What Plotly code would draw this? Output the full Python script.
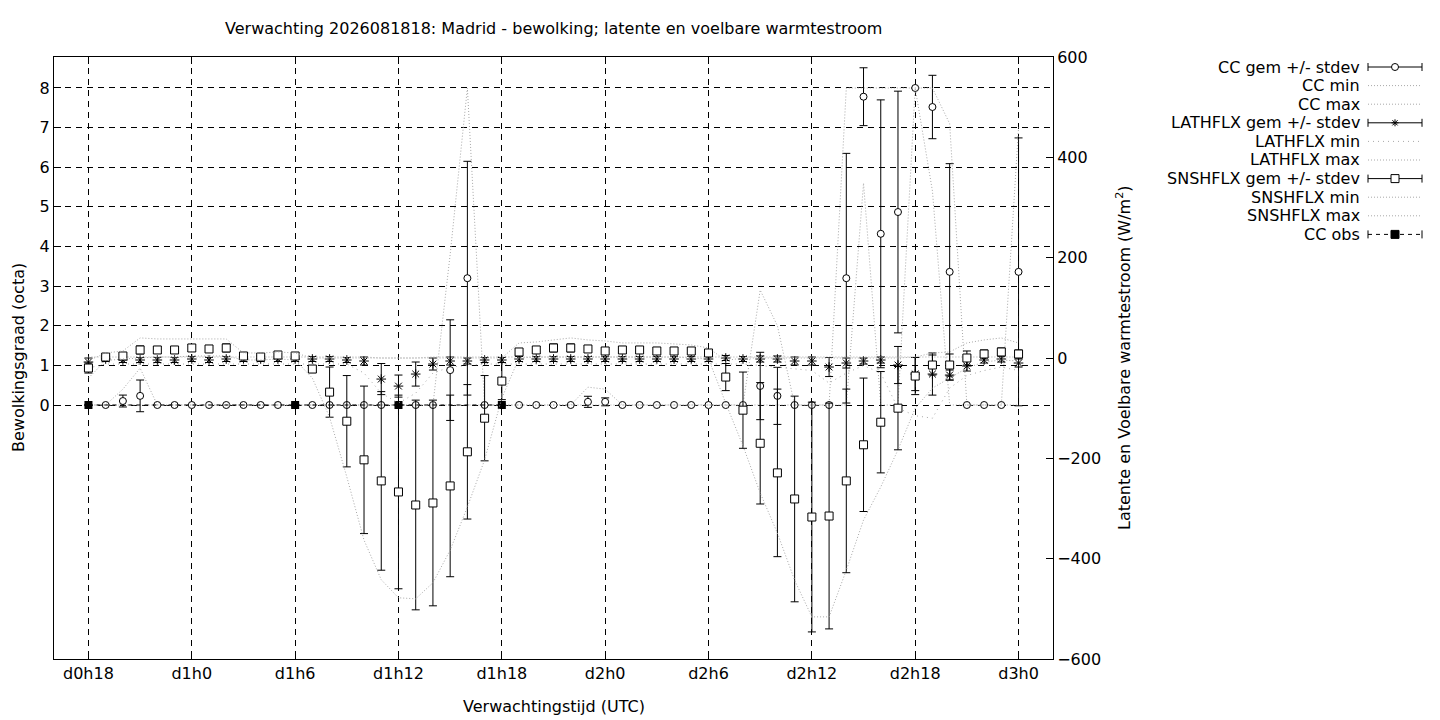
import plotly.graph_objects as go

# ---------------- data ----------------
hours = list(range(18, 73))
tick_hours = [18, 24, 30, 36, 42, 48, 54, 60, 66, 72]
tick_labels = ["d0h18", "d1h0", "d1h6", "d1h12", "d1h18", "d2h0", "d2h6", "d2h12", "d2h18", "d3h0"]
left_ticks = [0, 1, 2, 3, 4, 5, 6, 7, 8]
right_ticks = [-600, -400, -200, 0, 200, 400, 600]

# cloud cover (octa), h18 .. h72
cc_mean = [0, 0, 0.1, 0.23, 0, 0, 0, 0, 0, 0, 0, 0, 0, 0, 0, 0, 0, 0, 0, 0, 0, 0.88, 3.2, 0, 0,
           0, 0, 0, 0, 0.08, 0.08, 0, 0, 0, 0, 0, 0, 0, 0, 0.48, 0.23, 0, 0, 0, 3.2, 7.78, 4.32, 4.87,
           8.0, 7.52, 3.36, 0, 0, 0, 3.36]
cc_sd = [0, 0, 0.15, 0.4, 0, 0, 0, 0, 0, 0, 0, 0, 0, 0, 0, 0, 0, 0, 0, 0, 0, 1.27, 2.95, 0, 0,
         0, 0, 0, 0, 0.14, 0.1, 0, 0, 0, 0, 0, 0, 0, 0, 0.85, 0.72, 0, 0, 0, 3.15, 0.73, 3.38, 3.05,
         0, 0.8, 2.73, 0, 0, 0, 3.38]
cc_min = [0, 0, 0, 0, 0, 0, 0, 0, 0, 0, 0, 0, 0, 0, 0, 0, 0, 0, 0, 0, 0, 0, 0, 0, 0,
          0, 0, 0, 0, 0, 0, 0, 0, 0, 0, 0, 0, 0, 0, 0, 0, 0, 0, 0, 0, 5.6, 0, 0,
          8.0, 5.4, 0, 0, 0, 0, 0]
cc_max = [0, 0, 0.4, 0.93, 0, 0, 0, 0, 0, 0, 0, 0, 0, 0, 0, 0, 0, 0, 0, 0, 0, 3.8, 8.0, 0, 0,
          0, 0, 0, 0, 0.45, 0.4, 0, 0, 0, 0, 0, 0, 0, 0, 2.9, 2.0, 0, 0, 0, 8.0, 8.0, 8.0, 8.0,
          8.0, 8.0, 7.1, 0, 0, 0, 7.0]
obs_hours = [18, 30, 36, 42]
cc_obs = [0, 0, 0, 0]

# latent heat flux (W/m2)
lat_mean = [-8, -2, -4, -4, -4, -4, -2, -4, -2, -2, -2, -2, -2, -2, -2, -4, -6, -42, -56, -32, -12, -6, -6, -4, -4,
            -2, -2, -2, -2, -2, -2, -2, -2, -2, -2, -2, -2, 0, -2, -2, -2, -6, -6, -18, -10, -6, -4, -14,
            -32, -32, -34, -16, -4, -2, -10]
lat_sd = [8, 5, 5, 5, 5, 5, 5, 5, 5, 5, 5, 5, 5, 5, 5, 5, 8, 31, 22, 24, 12, 8, 6, 5, 5,
          5, 5, 5, 5, 5, 5, 5, 5, 5, 5, 5, 5, 5, 5, 6, 6, 8, 8, 19, 10, 6, 6, 37,
          33, 42, 10, 10, 6, 6, 8]
lat_min = [-20, -12, -12, -12, -12, -12, -12, -12, -12, -12, -12, -12, -12, -12, -12, -12, -30, -70, -90, -70, -30, -18, -15, -12, -12,
           -12, -12, -12, -12, -12, -12, -12, -12, -12, -12, -12, -12, -12, -12, -15, -18, -22, -25, -50, -30, -15, -30, -100,
           -115, -120, -60, -35, -25, -18, -25]
lat_max = [2, 2, 2, 2, 2, 2, 2, 2, 2, 2, 2, 2, 2, 2, 2, 2, 2, 0, 0, 0, 2, 2, 2, 2, 2,
           2, 2, 2, 2, 2, 2, 2, 2, 2, 2, 2, 2, 2, 2, 2, 2, 2, 2, 2, 2, 2, 2, 2,
           2, 2, 2, 2, 2, 2, 2]

# sensible heat flux (W/m2)
sns_mean = [-20, 2, 4, 16, 16, 16, 20, 18, 20, 4, 2, 6, 4, -22, -68, -126, -203, -245, -267, -293, -289, -255, -187, -120, -46,
            12, 16, 20, 20, 18, 14, 16, 16, 14, 14, 14, 10, -38, -104, -170, -229, -281, -317, -315, -245, -173, -128, -100,
            -36, -14, -14, 0, 8, 12, 8]
sns_sd = [10, 3, 4, 8, 7, 7, 7, 7, 8, 3, 3, 4, 3, 7, 50, 91, 147, 178, 193, 209, 205, 181, 134, 85, 37,
          6, 7, 8, 8, 7, 7, 7, 7, 7, 7, 6, 5, 27, 76, 121, 167, 205, 229, 225, 183, 133, 101, 83,
          37, 20, 22, 14, 8, 8, 8]
sns_min = [-40, -5, -2, 0, 2, 2, 4, 4, 4, -4, -4, -2, -4, -40, -118, -237, -363, -442, -478, -480, -448, -383, -297, -203, -80,
           0, 2, 2, 2, 2, 2, 2, 2, 2, 2, 0, -2, -90, -175, -269, -349, -443, -516, -516, -423, -323, -257, -183,
           -100, -60, -40, -20, -8, -4, -6]
sns_max = [-5, 10, 14, 40, 38, 38, 38, 38, 38, 10, 10, 12, 10, 0, 0, 0, 0, 0, 0, 0, 0, 0, 0, 0, 0,
           30, 32, 36, 40, 36, 34, 30, 30, 30, 28, 26, 20, -5, 0, 0, 0, 0, 0, 0, 0, 0, 0, 0,
           2, 10, 12, 30, 36, 40, 30]

names = ["CC gem +/- stdev", "CC min", "CC max", "LATHFLX gem +/- stdev", "LATHFLX min", "LATHFLX max",
         "SNSHFLX gem +/- stdev", "SNSHFLX min", "SNSHFLX max", "CC obs"]

# ---------------- styling ----------------
FONT = "DejaVu Sans"
FS = 16
GRAY = "#a8a8a8"
DOT = "1px,2px"
DOT_SPARSE = "1px,4px"
OFF = 8  # page body margin of the browser

fig = go.Figure()


def eb(arr):
    return dict(type="data", array=arr, visible=True, color="black", thickness=1, width=4)


# CC
fig.add_trace(go.Scatter(x=hours, y=cc_mean, name=names[0], mode="markers", yaxis="y",
                         marker=dict(symbol="circle", size=7, color="white", line=dict(color="black", width=1)),
                         error_y=eb(cc_sd)))
fig.add_trace(go.Scatter(x=hours, y=cc_min, name=names[1], mode="lines", yaxis="y",
                         line=dict(color=GRAY, width=1, dash=DOT)))
fig.add_trace(go.Scatter(x=hours, y=cc_max, name=names[2], mode="lines", yaxis="y",
                         line=dict(color=GRAY, width=1, dash=DOT)))
# LATHFLX
fig.add_trace(go.Scatter(x=hours, y=lat_mean, name=names[3], mode="markers", yaxis="y2",
                         marker=dict(symbol="asterisk-open", size=8, color="black", line=dict(color="black", width=1)),
                         error_y=eb(lat_sd)))
fig.add_trace(go.Scatter(x=hours, y=lat_min, name=names[4], mode="lines", yaxis="y2",
                         line=dict(color=GRAY, width=1, dash=DOT_SPARSE)))
fig.add_trace(go.Scatter(x=hours, y=lat_max, name=names[5], mode="lines", yaxis="y2",
                         line=dict(color=GRAY, width=1, dash=DOT)))
# SNSHFLX
fig.add_trace(go.Scatter(x=hours, y=sns_mean, name=names[6], mode="markers", yaxis="y2",
                         marker=dict(symbol="square", size=8, color="white", line=dict(color="black", width=1)),
                         error_y=eb(sns_sd)))
fig.add_trace(go.Scatter(x=hours, y=sns_min, name=names[7], mode="lines", yaxis="y2",
                         line=dict(color=GRAY, width=1, dash=DOT)))
fig.add_trace(go.Scatter(x=hours, y=sns_max, name=names[8], mode="lines", yaxis="y2",
                         line=dict(color=GRAY, width=1, dash=DOT)))
# CC obs
fig.add_trace(go.Scatter(x=obs_hours, y=cc_obs, name=names[9], mode="lines+markers", yaxis="y",
                         line=dict(color="black", width=1, dash="4px,4px"),
                         marker=dict(symbol="square", size=8, color="black")))

# ---------------- layout ----------------
W, H = 1440 - OFF, 720 - OFF
L, R, T, B = 54, 1053, 57, 659   # plot frame in the reference picture


def PX(px):
    return (px - L) / (R - L)


def PY(py):
    return (B - py) / (B - T)


axis_common = dict(showline=True, linecolor="black", linewidth=1, ticks="inside", ticklen=7,
                   tickcolor="black", zeroline=False,
                   tickfont=dict(family=FONT, size=FS, color="black"))

fig.update_layout(
    width=W, height=H,
    margin=dict(l=L - OFF, r=W - (R - OFF), t=T - OFF, b=H - (B - OFF)),
    paper_bgcolor="white", plot_bgcolor="white",
    showlegend=False,
    font=dict(family=FONT, size=FS, color="black"),
    xaxis=dict(range=[16, 74], tickvals=tick_hours, ticktext=tick_labels, mirror="ticks",
               showgrid=True, gridcolor="black", gridwidth=1, griddash="6px,5px", **axis_common),
    yaxis=dict(range=[-6.41, 8.782], tickvals=left_ticks, mirror=False,
               showgrid=True, gridcolor="black", gridwidth=1, griddash="6px,5px", **axis_common),
    yaxis2=dict(range=[-600, 600], tickvals=right_ticks, overlaying="y", side="right",
                showgrid=False, **axis_common),
)

ann = []
ann.append(dict(text="Verwachting 2026081818: Madrid - bewolking; latente en voelbare warmtestroom",
                x=0.5, y=PY(29), xref="paper", yref="paper", showarrow=False,
                xanchor="center", yanchor="middle", font=dict(family=FONT, size=FS)))
ann.append(dict(text="Verwachtingstijd (UTC)", x=0.5, y=PY(706), xref="paper", yref="paper",
                showarrow=False, xanchor="center", yanchor="middle", font=dict(family=FONT, size=FS)))
ann.append(dict(text="Bewolkingsgraad (octa)", x=PX(18), y=PY(358), xref="paper", yref="paper",
                showarrow=False, xanchor="center", yanchor="middle", textangle=-90,
                font=dict(family=FONT, size=FS)))
ann.append(dict(text="Latente en Voelbare warmtestroom (W/m<sup>2</sup>)", x=PX(1123), y=PY(358),
                xref="paper", yref="paper", showarrow=False, xanchor="center", yanchor="middle",
                textangle=-90, font=dict(family=FONT, size=FS)))

# manual key (gnuplot style: right-aligned text, sample on the right)
shapes = []
row0, drow = 67, 18.6
sx0, sx1, sxc = 1368, 1422, 1395
for i, nm in enumerate(names):
    py = row0 + i * drow
    ann.append(dict(text=nm, x=PX(1362), y=PY(py), xref="paper", yref="paper", showarrow=False,
                    xanchor="right", yanchor="middle", font=dict(family=FONT, size=FS)))
    if i in (0, 3, 6, 9):
        dash = "solid" if i != 9 else "4px,4px"
        shapes.append(dict(type="line", xref="paper", yref="paper", x0=PX(sx0), x1=PX(sx1),
                           y0=PY(py), y1=PY(py), line=dict(color="black", width=1, dash=dash)))
        for ex in (sx0, sx1):
            shapes.append(dict(type="line", xref="paper", yref="paper", x0=PX(ex), x1=PX(ex),
                               y0=PY(py - 4), y1=PY(py + 4), line=dict(color="black", width=1)))
        if i == 0:
            shapes.append(dict(type="circle", xref="paper", yref="paper", x0=PX(sxc - 3.5), x1=PX(sxc + 3.5),
                               y0=PY(py - 3.5), y1=PY(py + 3.5), fillcolor="white",
                               line=dict(color="black", width=1)))
        elif i == 3:
            r = 3.5
            for dx, dy in ((0, r), (r, 0), (r * 0.75, r * 0.75), (r * 0.75, -r * 0.75)):
                shapes.append(dict(type="line", xref="paper", yref="paper", x0=PX(sxc - dx), x1=PX(sxc + dx),
                                   y0=PY(py - dy), y1=PY(py + dy), line=dict(color="black", width=1)))
        elif i == 6:
            shapes.append(dict(type="rect", xref="paper", yref="paper", x0=PX(sxc - 4), x1=PX(sxc + 4),
                               y0=PY(py - 4), y1=PY(py + 4), fillcolor="white",
                               line=dict(color="black", width=1)))
        else:
            shapes.append(dict(type="rect", xref="paper", yref="paper", x0=PX(sxc - 4), x1=PX(sxc + 4),
                               y0=PY(py - 4), y1=PY(py + 4), fillcolor="black",
                               line=dict(color="black", width=1)))
    else:
        dash = DOT_SPARSE if i == 4 else DOT
        shapes.append(dict(type="line", xref="paper", yref="paper", x0=PX(sx0), x1=PX(sx1),
                           y0=PY(py), y1=PY(py), line=dict(color=GRAY, width=1, dash=dash)))

fig.update_layout(annotations=ann, shapes=shapes)
fig.write_html("out.html")
